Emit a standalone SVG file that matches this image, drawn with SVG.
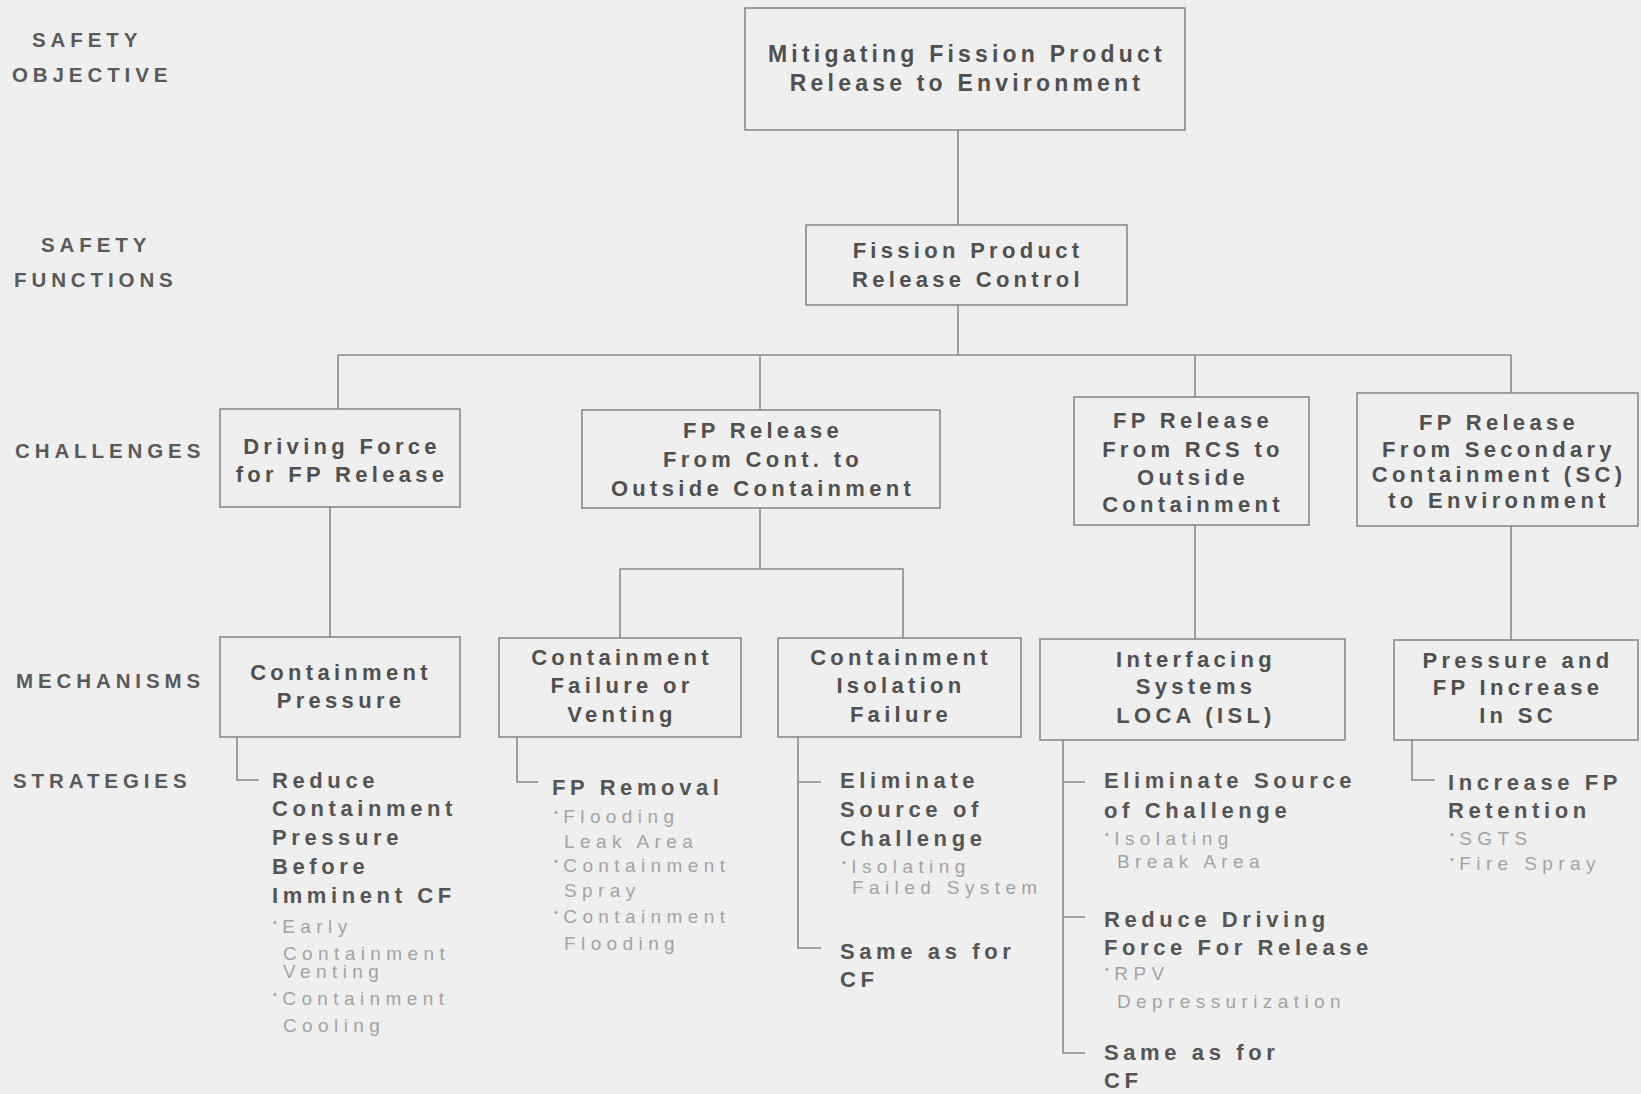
<svg xmlns="http://www.w3.org/2000/svg" width="1641" height="1094" viewBox="0 0 1641 1094">
<style>
  .bg{fill:#efefef}
  .box{fill:none;stroke:#8a8a8a;stroke-width:1.6}
  .ln{fill:none;stroke:#8a8a8a;stroke-width:1.6}
  .t{font-family:"Liberation Sans",Arial,sans-serif;font-weight:bold;font-size:22px;letter-spacing:4.3px;fill:#505050;text-anchor:middle}
  .tt{font-size:23px;letter-spacing:4.2px}
  .lb{font-family:"Liberation Sans",Arial,sans-serif;font-weight:bold;font-size:20.5px;letter-spacing:4.9px;fill:#5a5a5a}
  .m{font-family:"Liberation Sans",Arial,sans-serif;font-weight:bold;font-size:22px;letter-spacing:4.6px;fill:#555}
  .s{font-family:"Liberation Sans",Arial,sans-serif;font-size:19px;letter-spacing:5.4px;fill:#a3a3a3}
  .bl{font-size:11px}
</style>
<rect class="bg" x="0" y="0" width="1641" height="1094"/>

<g id="labels">
  <text class="lb" x="32" y="47">SAFETY</text>
  <text class="lb" x="12" y="82">OBJECTIVE</text>
  <text class="lb" x="41" y="252">SAFETY</text>
  <text class="lb" x="14" y="287">FUNCTIONS</text>
  <text class="lb" x="15" y="458">CHALLENGES</text>
  <text class="lb" x="16" y="688">MECHANISMS</text>
  <text class="lb" x="13" y="788">STRATEGIES</text>
</g>

<g id="connectors">
  <path class="ln" d="M958,130 V225"/>
  <path class="ln" d="M958,305 V355"/>
  <path class="ln" d="M338,355 H1511"/>
  <path class="ln" d="M338,355 V409"/>
  <path class="ln" d="M760,355 V410"/>
  <path class="ln" d="M1195,355 V397"/>
  <path class="ln" d="M1511,355 V393"/>
  <path class="ln" d="M330,507 V637"/>
  <path class="ln" d="M760,508 V569"/>
  <path class="ln" d="M620,638 V569 H903 V638"/>
  <path class="ln" d="M1195,525 V639"/>
  <path class="ln" d="M1511,526 V640"/>
  <path class="ln" d="M237,737 V780 H259"/>
  <path class="ln" d="M517,737 V782 H538"/>
  <path class="ln" d="M798,737 V948 H821 M798,782 H821"/>
  <path class="ln" d="M1063,740 V1053 H1085 M1063,782 H1085 M1063,917 H1085"/>
  <path class="ln" d="M1412,740 V780 H1435"/>
</g>

<g id="n-objective">
  <rect class="box" x="745" y="8" width="440" height="122"/>
  <text class="t tt" x="967" y="62">Mitigating Fission Product</text>
  <text class="t tt" x="967" y="91">Release to Environment</text>
</g>

<g id="n-function">
  <rect class="box" x="806" y="225" width="321" height="80"/>
  <text class="t" x="968" y="258">Fission Product</text>
  <text class="t" x="968" y="287">Release Control</text>
</g>

<g id="n-driving-force">
  <rect class="box" x="220" y="409" width="240" height="98"/>
  <text class="t" x="342" y="454">Driving Force</text>
  <text class="t" x="342" y="482">for FP Release</text>
</g>

<g id="n-release-cont">
  <rect class="box" x="582" y="410" width="358" height="98"/>
  <text class="t" x="763" y="438">FP Release</text>
  <text class="t" x="763" y="467">From Cont. to</text>
  <text class="t" x="763" y="496">Outside Containment</text>
</g>

<g id="n-release-rcs">
  <rect class="box" x="1074" y="397" width="235" height="128"/>
  <text class="t" x="1193" y="428">FP Release</text>
  <text class="t" x="1193" y="457">From RCS to</text>
  <text class="t" x="1193" y="485">Outside</text>
  <text class="t" x="1193" y="512">Containment</text>
</g>

<g id="n-release-sc">
  <rect class="box" x="1357" y="393" width="281" height="133"/>
  <text class="t" x="1499" y="430">FP Release</text>
  <text class="t" x="1499" y="457">From Secondary</text>
  <text class="t" x="1499" y="482">Containment (SC)</text>
  <text class="t" x="1499" y="508">to Environment</text>
</g>

<g id="n-cont-pressure">
  <rect class="box" x="220" y="637" width="240" height="100"/>
  <text class="t" x="341" y="680">Containment</text>
  <text class="t" x="341" y="708">Pressure</text>
</g>

<g id="n-cont-failure">
  <rect class="box" x="499" y="638" width="242" height="99"/>
  <text class="t" x="622" y="665">Containment</text>
  <text class="t" x="622" y="693">Failure or</text>
  <text class="t" x="622" y="722">Venting</text>
</g>

<g id="n-cont-isolation">
  <rect class="box" x="778" y="638" width="243" height="99"/>
  <text class="t" x="901" y="665">Containment</text>
  <text class="t" x="901" y="693">Isolation</text>
  <text class="t" x="901" y="722">Failure</text>
</g>

<g id="n-isl">
  <rect class="box" x="1040" y="639" width="305" height="101"/>
  <text class="t" x="1196" y="667">Interfacing</text>
  <text class="t" x="1196" y="694">Systems</text>
  <text class="t" x="1196" y="723">LOCA (ISL)</text>
</g>

<g id="n-sc-increase">
  <rect class="box" x="1394" y="640" width="244" height="100"/>
  <text class="t" x="1518" y="668">Pressure and</text>
  <text class="t" x="1518" y="695">FP Increase</text>
  <text class="t" x="1518" y="723">In SC</text>
</g>

<g id="s-cont-pressure">
  <text class="m" x="272" y="788">Reduce</text>
  <text class="m" x="272" y="816">Containment</text>
  <text class="m" x="272" y="845">Pressure</text>
  <text class="m" x="272" y="874">Before</text>
  <text class="m" x="272" y="903">Imminent CF</text>
  <text class="s" x="273" y="933"><tspan class="bl" dy="-7">•</tspan><tspan dy="7">Early</tspan></text>
  <text class="s" x="283" y="960">Containment</text>
  <text class="s" x="283" y="978">Venting</text>
  <text class="s" x="273" y="1005"><tspan class="bl" dy="-7">•</tspan><tspan dy="7">Containment</tspan></text>
  <text class="s" x="283" y="1032">Cooling</text>
</g>

<g id="s-cont-failure">
  <text class="m" x="552" y="795">FP Removal</text>
  <text class="s" x="554" y="823"><tspan class="bl" dy="-7">•</tspan><tspan dy="7">Flooding</tspan></text>
  <text class="s" x="564" y="848">Leak Area</text>
  <text class="s" x="554" y="872"><tspan class="bl" dy="-7">•</tspan><tspan dy="7">Containment</tspan></text>
  <text class="s" x="564" y="897">Spray</text>
  <text class="s" x="554" y="923"><tspan class="bl" dy="-7">•</tspan><tspan dy="7">Containment</tspan></text>
  <text class="s" x="564" y="950">Flooding</text>
</g>

<g id="s-cont-isolation">
  <text class="m" x="840" y="788">Eliminate</text>
  <text class="m" x="840" y="817">Source of</text>
  <text class="m" x="840" y="846">Challenge</text>
  <text class="s" x="842" y="873"><tspan class="bl" dy="-7">•</tspan><tspan dy="7">Isolating</tspan></text>
  <text class="s" x="852" y="894">Failed System</text>
  <text class="m" x="840" y="959">Same as for</text>
  <text class="m" x="840" y="987">CF</text>
</g>

<g id="s-isl">
  <text class="m" x="1104" y="788">Eliminate Source</text>
  <text class="m" x="1104" y="818">of Challenge</text>
  <text class="s" x="1105" y="845"><tspan class="bl" dy="-7">•</tspan><tspan dy="7">Isolating</tspan></text>
  <text class="s" x="1117" y="868">Break Area</text>
  <text class="m" x="1104" y="927">Reduce Driving</text>
  <text class="m" x="1104" y="955">Force For Release</text>
  <text class="s" x="1105" y="980"><tspan class="bl" dy="-7">•</tspan><tspan dy="7">RPV</tspan></text>
  <text class="s" x="1117" y="1008">Depressurization</text>
  <text class="m" x="1104" y="1060">Same as for</text>
  <text class="m" x="1104" y="1088">CF</text>
</g>

<g id="s-sc-increase">
  <text class="m" x="1448" y="790">Increase FP</text>
  <text class="m" x="1448" y="818">Retention</text>
  <text class="s" x="1450" y="845"><tspan class="bl" dy="-7">•</tspan><tspan dy="7">SGTS</tspan></text>
  <text class="s" x="1450" y="870"><tspan class="bl" dy="-7">•</tspan><tspan dy="7">Fire Spray</tspan></text>
</g>
</svg>
